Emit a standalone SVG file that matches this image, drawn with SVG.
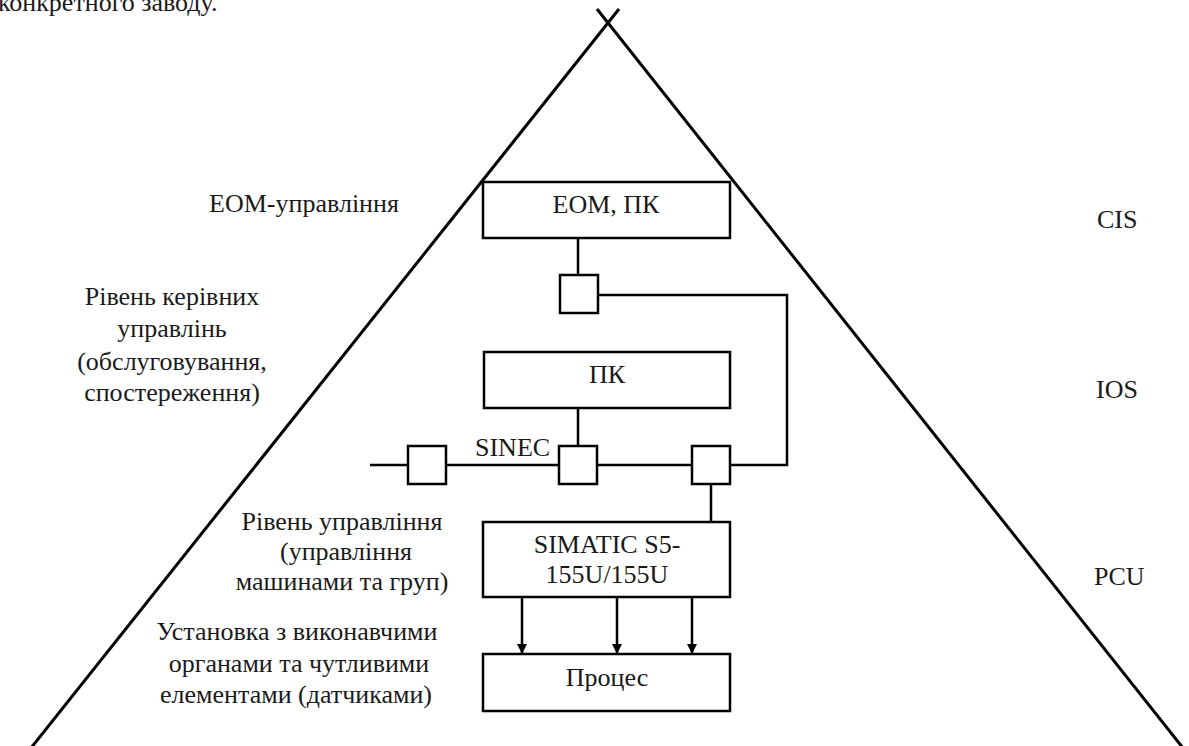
<svg xmlns="http://www.w3.org/2000/svg" width="1189" height="746" viewBox="0 0 1189 746">
<defs>
<style>
text{font-family:"Liberation Serif","Times New Roman",serif;font-size:26px;fill:#1a1a1a}
.m{text-anchor:middle}
.box{fill:#fff;stroke:#000;stroke-width:2.5}
.ln{fill:none;stroke:#000;stroke-width:2.5}
.tri{fill:none;stroke:#000;stroke-width:3}
</style>
<marker id="ah" viewBox="0 0 10 10" refX="10" refY="5" markerWidth="10" markerHeight="11" markerUnits="userSpaceOnUse" orient="auto">
<path d="M0,0 L10,5 L0,10 z" fill="#000"/>
</marker>
</defs>
<rect width="1189" height="746" fill="#fff"/>
<text x="-2" y="11">конкретного заводу.</text>
<g id="pyramid">
<line class="tri" x1="619" y1="9" x2="31" y2="748"/>
<line class="tri" x1="597" y1="9" x2="1183" y2="748"/>
</g>
<g id="connectors">
<path class="ln" d="M578,238 V275"/>
<path class="ln" d="M598,295 H787 V465 H730"/>
<path class="ln" d="M578,408 V446"/>
<path class="ln" d="M370,465 H408 M446,465 H559 M597,465 H692"/>
<path class="ln" d="M711,484 V522"/>
<path class="ln" d="M522,597 V654" marker-end="url(#ah)"/>
<path class="ln" d="M617,597 V654" marker-end="url(#ah)"/>
<path class="ln" d="M692,597 V654" marker-end="url(#ah)"/>
</g>
<g id="eom">
<rect class="box" x="483" y="182" width="247" height="56"/>
<text class="m" x="606" y="213">ЕОМ, ПК</text>
</g>
<g id="sqA"><rect class="box" x="560" y="275" width="38" height="38"/></g>
<g id="pk">
<rect class="box" x="484" y="352" width="246" height="56"/>
<text class="m" x="607" y="383">ПК</text>
</g>
<g id="sqB"><rect class="box" x="408" y="446" width="38" height="38"/></g>
<g id="sqC"><rect class="box" x="559" y="446" width="38" height="38"/></g>
<g id="sqD"><rect class="box" x="692" y="446" width="38" height="38"/></g>
<text x="475" y="456">SINEC</text>
<g id="simatic">
<rect class="box" x="483" y="522" width="247" height="75"/>
<text class="m" x="607" y="553">SIMATIC S5-</text>
<text class="m" x="607" y="583">155U/155U</text>
</g>
<g id="process">
<rect class="box" x="483" y="654" width="247" height="57"/>
<text class="m" x="607" y="686">Процес</text>
</g>
<g id="labels-left">
<text class="m" x="304" y="212">ЕОМ-управління</text>
<text class="m" x="172" y="305">Рівень керівних</text>
<text class="m" x="172" y="337">управлінь</text>
<text class="m" x="172" y="370">(обслуговування,</text>
<text class="m" x="172" y="401">спостереження)</text>
<text class="m" x="342" y="530">Рівень управління</text>
<text class="m" x="346" y="560">(управління</text>
<text class="m" x="342" y="590">машинами та груп)</text>
<text class="m" x="297" y="640">Установка з виконавчими</text>
<text class="m" x="299" y="672">органами та чутливими</text>
<text class="m" x="296" y="703">елементами (датчиками)</text>
</g>
<g id="labels-right">
<text x="1097" y="228">CIS</text>
<text x="1096" y="398">IOS</text>
<text x="1094" y="585">PCU</text>
</g>
</svg>
